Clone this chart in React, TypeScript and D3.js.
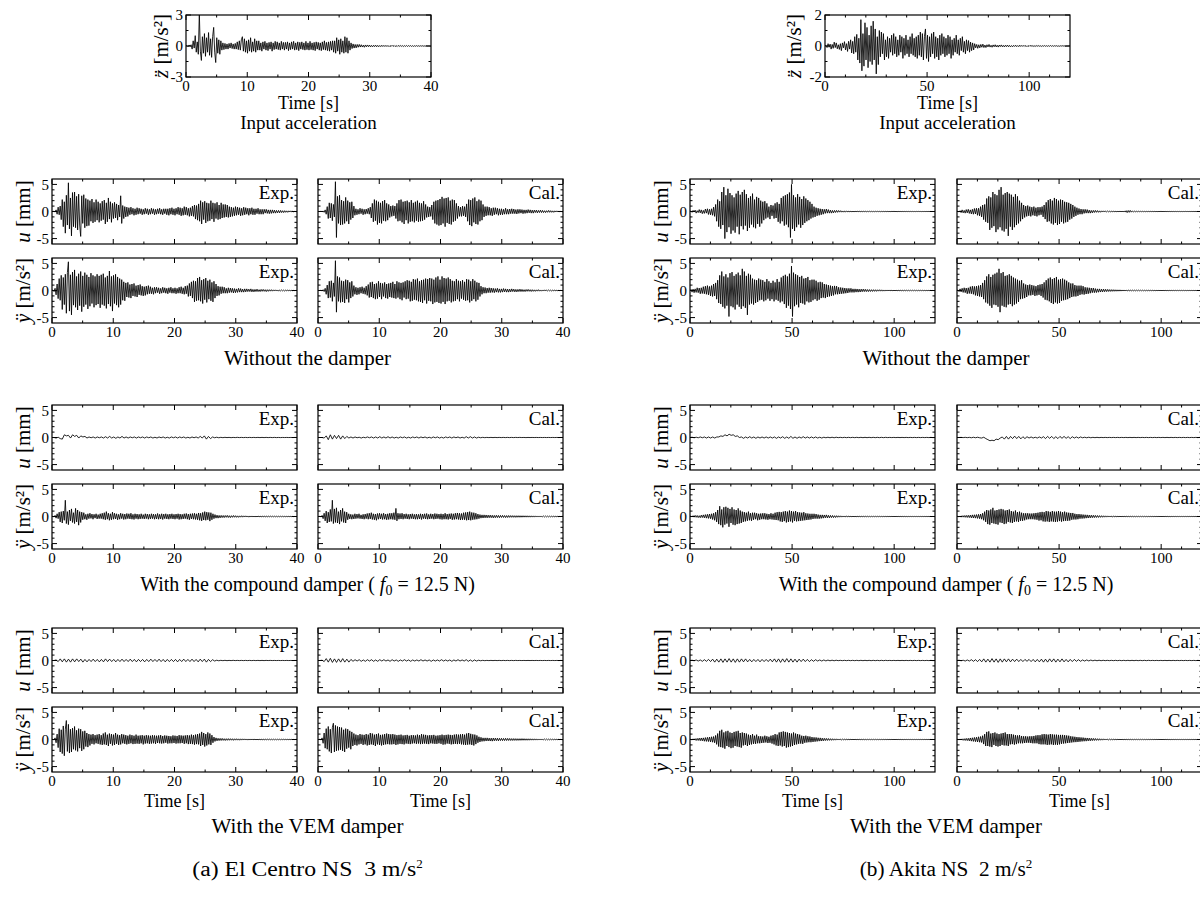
import React from "react";
import * as d3 from "d3";

const FONT = "'Liberation Serif', 'Times New Roman', serif";

// ---------------- tick values ----------------
const ecMajor = [0, 10, 20, 30, 40];
const ecMinor = [5, 15, 25, 35];
const akMajor = [0, 50, 100];
const akMinor = [10, 20, 30, 40, 60, 70, 80, 90, 110];
const respMajor = [-5, 0, 5];
const respMinor = [-4, -3, -2, -1, 1, 2, 3, 4];
const ecInMajor = [-3, 0, 3];
const ecInMinor = [-1.5, 1.5];
const akInMajor = [-2, 0, 2];
const akInMinor = [-1, 1];

// ---------------- El Centro (0–40 s) ----------------
const ecInput = [
0,0.05,-0.08,0.1,-0.05,0.12,-0.3,0.5,-0.2,1.0,-0.6,0.4,-0.8,3.2,-0.5,-1.4,0.9,-0.7,1.2,-1.0,0.8,-0.6,1.3,-0.9,
0.7,-1.1,0.9,1.8,-0.6,-1.6,0.8,-0.7,0.6,-0.8,0.5,-0.4,0.3,-0.35,0.25,-0.3,0.2,-0.3,0.25,-0.2,0.3,-0.25,0.2,-0.3,
0.25,-0.3,0.4,-0.35,0.5,-0.4,0.6,0.9,-0.5,0.7,-0.6,0.5,-0.7,0.6,-0.5,0.8,-0.6,0.4,-0.5,0.7,-0.6,0.5,-0.4,0.5,
-0.4,0.3,-0.5,0.4,-0.3,0.45,-0.4,0.3,-0.45,0.35,-0.3,0.4,-0.5,0.3,-0.35,0.45,-0.3,0.4,-0.35,0.3,-0.4,0.45,-0.3,0.35,
-0.4,0.35,-0.3,0.4,-0.45,0.3,-0.35,0.4,-0.3,0.45,-0.4,0.3,-0.35,0.4,-0.45,0.35,-0.3,0.4,-0.35,0.3,-0.4,0.45,-0.35,0.3,
-0.4,0.45,-0.35,0.3,-0.4,0.35,-0.45,0.4,-0.3,0.35,-0.4,0.3,-0.45,0.4,-0.35,0.5,-0.4,0.35,-0.45,0.4,-0.5,0.45,-0.4,0.5,
-0.6,0.5,-0.7,0.8,-0.5,0.6,-0.8,0.7,-0.6,0.5,-0.7,0.9,-0.6,0.8,-0.7,0.5,-0.4,0.3,-0.25,0.2,-0.2,0.15,-0.18,0.15,
-0.12,0.15,-0.1,0.12,-0.1,0.08,-0.12,0.1,-0.08,0.1,-0.07,0.09,-0.08,0.06,-0.08,0.07,-0.06,0.08,-0.07,0.06,-0.07,0.05,-0.06,0.07,
-0.05,0.06,-0.05,0.06,-0.05,0.05,-0.06,0.04,-0.05,0.06,-0.04,0.05,-0.05,0.04,-0.05,0.05,-0.04,0.05,-0.04,0.04,-0.05,0.04,-0.04,0.05,
-0.04,0.04,-0.03,0.04,-0.04,0.03,-0.04,0.03,-0.03,0.04,-0.03,0.03,-0.03,0.03,-0.02,0.03,-0.03,0.02,-0.02,0.03,-0.02,0.02,-0.02,0];

const ecUExp0 = [
0,0,0.05,-0.1,0.3,-0.5,0.8,-0.6,1.0,-1.5,2.2,-2.8,1.8,-4.0,3.0,-2.5,5.3,-3.2,2.5,-4.5,3.5,-2.8,3.6,-3.0,
2.8,-3.4,3.2,-2.5,-4.6,2.9,-2.2,3.1,-3.0,2.4,-2.7,2.2,-2.6,2.0,-1.8,2.3,-2.1,1.7,-1.9,2.2,-1.6,1.8,-2.0,1.5,
-1.7,1.9,-1.5,2.1,-2.3,1.6,-1.9,2.5,-1.4,1.8,-2.0,1.5,-1.3,1.7,-1.2,1.4,-1.6,1.2,-1.0,2.9,-2.2,1.1,-1.3,0.9,
-1.0,0.8,-0.9,0.7,-0.6,0.8,-0.5,0.6,-0.7,0.5,-0.6,0.7,-0.5,0.6,-0.4,0.5,-0.6,0.4,-0.5,0.6,-0.4,0.5,-0.6,0.4,
-0.5,0.6,-0.4,0.5,-0.6,0.4,-0.5,0.5,-0.4,0.6,-0.5,0.4,-0.6,0.5,-0.4,0.5,-0.6,0.5,-0.7,0.6,-0.5,0.7,-0.6,0.5,
-0.7,0.6,-0.5,0.8,-0.6,0.7,-0.8,0.6,-0.7,0.9,-0.6,0.8,-0.7,0.6,-0.9,0.7,-0.8,1.0,-0.9,1.2,-1.4,1.1,-1.6,1.4,
-1.8,2.0,-2.3,1.7,-1.5,1.9,-2.1,1.6,-1.8,1.5,-1.7,2.0,-1.4,1.6,-1.9,1.5,-1.3,1.7,-1.5,1.2,-1.4,1.6,-1.2,1.3,
-1.1,1.3,-1.0,1.2,-1.1,0.9,-1.0,0.8,-0.9,0.7,-0.8,0.9,-0.7,0.8,-0.6,0.7,-0.8,0.6,-0.7,0.8,-0.6,0.7,-0.5,0.6,
-0.7,0.6,-0.5,0.7,-0.6,0.5,-0.6,0.5,-0.4,0.6,-0.5,0.4,-0.5,0.4,-0.5,0.4,-0.3,0.4,-0.35,0.3,-0.4,0.3,-0.35,0.3,
-0.3,0.25,-0.3,0.2,-0.25,0.2,-0.25,0.2,-0.2,0.15,-0.2,0.15,-0.15,0.12,-0.15,0.12,-0.1,0.12,-0.1,0.08,-0.1,0.08,-0.06,0];

const ecAExp0 = [
0,0.1,-0.2,0.4,-0.8,1.2,-1.5,2.2,-1.8,2.8,-3.5,2.4,-2.6,3.0,-4.2,3.3,5.3,-3.8,2.9,-4.5,3.4,-2.7,3.8,-3.1,
2.6,-3.6,3.1,-2.8,3.5,-3.9,2.7,-3.0,3.3,-2.6,2.9,-3.4,2.5,-2.9,3.2,-2.4,2.8,-3.1,2.6,-2.7,3.0,-2.5,2.7,-3.2,
2.9,-2.6,3.1,-2.8,2.4,-3.3,2.7,-2.5,3.6,-2.9,2.6,-3.8,2.8,-2.4,3.0,-2.7,2.5,-3.1,2.2,-2.6,2.0,-1.8,1.6,-1.9,
1.4,-1.2,1.5,-1.3,1.1,-1.4,1.2,-1.0,1.3,-1.1,0.9,-1.2,1.0,-0.8,1.1,-0.9,0.8,-1.0,0.7,-0.9,0.8,-0.7,0.9,-0.6,
0.7,-0.6,0.5,-0.7,0.6,-0.5,0.6,-0.4,0.5,-0.6,0.4,-0.5,0.6,-0.4,0.5,-0.5,0.4,-0.6,0.5,-0.4,0.6,-0.5,0.4,-0.5,
0.5,-0.6,0.4,-0.5,0.6,-0.5,0.7,-0.6,0.5,-0.7,0.8,-0.6,0.9,-1.1,1.3,-1.0,1.6,-1.4,1.8,-2.1,1.7,-1.9,2.3,-1.8,
2.5,-2.0,1.9,-2.4,2.1,-1.7,2.3,-2.2,1.8,-1.6,2.0,-1.9,1.5,-2.1,1.7,-1.4,1.2,-1.0,0.8,-0.9,0.7,-0.6,0.7,-0.5,
0.6,-0.5,0.4,-0.5,0.5,-0.4,0.45,-0.35,0.4,-0.45,0.35,-0.4,0.3,-0.35,0.4,-0.3,0.35,-0.3,0.25,-0.3,0.3,-0.25,0.3,-0.2,
0.25,-0.2,0.3,-0.25,0.2,-0.25,0.2,-0.2,0.25,-0.2,0.15,-0.2,0.2,-0.15,0.2,-0.15,0.15,-0.2,0.15,-0.15,0.15,-0.12,0.15,-0.12,
0.12,-0.1,0.12,-0.1,0.1,-0.12,0.1,-0.08,0.1,-0.08,0.08,-0.1,0.08,-0.06,0.08,-0.06,0.06,-0.07,0.05,-0.06,0.05,-0.05,0.04,0];

const ecUCal0 = [
0,0,0,0.05,-0.05,0.1,-0.15,0.3,-0.5,0.9,-1.3,1.6,-1.2,1.5,-1.7,1.3,-1.0,5.5,-4.8,2.8,-2.2,3.0,-2.5,2.1,
-2.4,1.9,-2.2,2.6,-1.8,2.0,-2.3,1.7,-1.5,1.8,-1.2,1.0,-0.7,0.5,-0.6,0.4,-0.5,0.6,-0.4,0.5,-0.6,0.4,-0.5,0.45,
-0.4,0.6,-0.5,0.8,-1.2,1.5,-1.9,2.2,-1.7,2.0,-2.4,1.8,-2.1,1.6,-2.2,1.9,-1.7,2.1,-1.8,1.5,-1.6,1.3,-1.1,1.0,
-0.9,1.1,-0.8,1.0,-1.3,1.5,-1.8,2.1,-1.7,2.2,-2.0,1.8,-2.3,1.9,-1.6,2.0,-2.2,1.7,-1.9,2.1,-1.8,1.6,-2.0,1.8,
-1.7,2.0,-1.9,1.6,-1.8,1.5,-1.7,1.9,-1.5,1.3,-1.1,0.9,-1.0,0.8,-0.9,1.2,-1.5,1.8,-2.2,2.0,-2.4,2.1,-2.6,2.3,
-2.5,2.7,-2.2,2.4,-2.8,2.5,-2.1,2.6,-2.3,2.0,-2.4,2.2,-1.9,2.1,-1.7,1.5,-1.3,1.0,-0.9,0.8,-0.9,1.0,-0.8,0.9,
-1.0,1.4,-1.8,2.2,-2.5,2.1,-2.7,2.4,-2.0,2.6,-2.3,1.9,-2.4,2.2,-1.8,2.0,-1.6,1.3,-1.0,0.9,-0.8,0.9,-0.7,0.8,
-0.7,0.6,-0.8,0.7,-0.6,0.7,-0.5,0.6,-0.7,0.5,-0.6,0.5,-0.6,0.4,-0.5,0.6,-0.5,0.4,-0.5,0.45,-0.4,0.5,-0.4,0.45,
-0.4,0.35,-0.45,0.4,-0.35,0.4,-0.3,0.35,-0.4,0.3,-0.35,0.3,-0.3,0.35,-0.25,0.3,-0.3,0.25,-0.3,0.25,-0.2,0.25,-0.25,0.2,
-0.2,0.25,-0.2,0.2,-0.2,0.15,-0.2,0.15,-0.15,0.2,-0.15,0.15,-0.15,0.12,-0.15,0.12,-0.1,0.12,-0.1,0.1,-0.1,0.08,-0.08,0];

const ecACal0 = [
0,0,0,0.05,-0.1,0.15,-0.2,0.4,-0.7,1.0,-1.4,1.7,-1.3,1.8,-2.0,1.4,-1.1,5.5,-4.0,2.6,-2.0,2.4,-2.2,1.8,
-2.1,1.7,-2.3,2.0,-1.6,1.9,-2.2,1.5,-1.4,1.7,-1.1,0.9,-0.7,0.6,-0.8,0.5,-0.7,0.6,-0.5,0.7,-0.6,0.5,-0.7,0.8,
-0.9,1.1,-1.3,1.5,-1.2,1.6,-1.4,1.2,-1.6,1.3,-1.5,1.7,-1.2,1.4,-1.6,1.3,-1.1,1.5,-1.4,1.2,-1.5,1.3,-1.2,1.4,
-1.3,1.6,-1.4,1.2,-1.5,1.7,-1.3,1.5,-1.6,1.4,-1.8,1.5,-1.3,1.7,-1.6,1.9,-1.5,1.8,-2.0,1.6,-1.9,2.1,-1.7,2.0,
-1.8,2.2,-2.0,1.7,-2.1,1.9,-2.3,2.0,-1.8,2.2,-2.4,2.1,-1.9,2.3,-2.0,2.2,-2.5,2.0,-2.2,2.4,-2.1,2.6,-2.3,2.0,
-2.4,2.6,-2.1,2.3,-2.5,2.2,-2.0,2.4,-1.9,2.1,-2.2,1.8,-2.0,1.7,-1.9,2.1,-1.6,1.8,-2.0,1.7,-1.5,1.9,-1.7,1.6,
-1.9,2.1,-1.8,2.0,-2.2,1.7,-1.9,2.1,-1.6,1.8,-2.0,1.5,-1.7,1.4,-1.1,0.8,-0.7,0.6,-0.5,0.55,-0.5,0.45,-0.4,0.5,
-0.4,0.45,-0.35,0.4,-0.4,0.35,-0.3,0.4,-0.35,0.3,-0.35,0.3,-0.3,0.35,-0.25,0.3,-0.3,0.25,-0.3,0.25,-0.25,0.3,-0.2,0.25,
-0.25,0.2,-0.25,0.2,-0.2,0.25,-0.2,0.2,-0.2,0.15,-0.2,0.18,-0.15,0.2,-0.15,0.15,-0.18,0.15,-0.15,0.12,-0.15,0.12,-0.12,0.15,
-0.12,0.1,-0.12,0.1,-0.1,0.12,-0.1,0.1,-0.08,0.1,-0.08,0.08,-0.1,0.08,-0.06,0.08,-0.06,0.06,-0.06,0.05,-0.05,0.05,-0.04,0];

const ecUExp1 = [
0,0,-0.1,0.05,-0.2,-0.3,0.5,0.3,0.4,-0.1,0.5,0.2,
0.4,-0.1,0.3,0.1,0.2,-0.1,0.1,-0.05,0.1,-0.1,0.1,-0.05,
0.1,-0.1,0.15,-0.1,0.2,-0.1,0.1,-0.15,0.1,-0.1,0.2,-0.1,
0.1,-0.1,0.1,-0.05,0.1,-0.1,0.1,-0.05,0.1,-0.1,0.1,-0.05,
0.1,-0.1,0.05,-0.1,0.1,-0.05,0.1,-0.1,0.05,-0.1,0.1,-0.05,
0.1,-0.1,0.1,-0.05,0.1,-0.1,0.05,-0.1,0.1,-0.05,0.1,-0.1,
0.2,-0.1,0.3,-0.3,0.2,-0.2,0.1,-0.05,0.05,-0.05,0.03,-0.03,
0.03,-0.02,0.02,-0.03,0.02,-0.02,0.03,-0.02,0.02,-0.02,0.02,-0.02,
0.02,-0.02,0.02,-0.02,0.02,-0.02,0.02,-0.02,0.02,-0.02,0.02,-0.02,
0.02,-0.02,0.01,-0.02,0.01,-0.01,0.01,-0.01,0.01,-0.01,0.01,0];

const ecUCal1 = [
0,0,0,-0.1,0.3,-0.4,0.5,-0.3,0.4,-0.2,0.4,-0.3,
0.3,-0.2,0.2,-0.1,0.1,-0.1,0.1,-0.05,0.05,-0.1,0.05,-0.05,
0.1,-0.05,0.1,-0.1,0.1,-0.1,0.15,-0.1,0.1,-0.1,0.15,-0.1,
0.1,-0.1,0.05,-0.1,0.1,-0.05,0.1,-0.1,0.05,-0.1,0.1,-0.05,
0.1,-0.1,0.1,-0.05,0.1,-0.1,0.05,-0.1,0.1,-0.05,0.1,-0.1,
0.05,-0.1,0.1,-0.05,0.1,-0.1,0.1,-0.05,0.1,-0.1,0.05,-0.1,
0.15,-0.1,0.15,-0.1,0.1,-0.1,0.05,-0.05,0.03,-0.03,0.02,-0.02,
0.02,-0.02,0.02,-0.02,0.02,-0.02,0.02,-0.02,0.02,-0.02,0.02,-0.02,
0.02,-0.01,0.02,-0.01,0.01,-0.02,0.01,-0.01,0.01,-0.01,0.01,-0.01,
0.01,-0.01,0.01,-0.01,0.01,-0.01,0.01,-0.01,0.01,-0.01,0.01,0];

const ecAExp1 = [
0,0.05,-0.1,0.2,-0.3,0.5,-0.4,0.8,-1.0,0.9,-1.2,1.0,-0.7,3.0,-1.3,0.9,-1.5,1.2,-0.8,1.4,-1.1,0.7,-1.3,1.5,
-1.0,1.2,-1.6,0.9,-1.1,0.8,-0.6,0.7,-0.5,0.4,-0.6,0.5,-0.4,0.6,-0.35,0.45,-0.5,0.4,-0.3,0.5,-0.45,0.35,-0.4,0.5,
-0.4,0.6,-0.5,0.7,-0.6,0.9,-0.5,0.6,-0.7,0.5,-0.6,0.8,-0.5,0.6,-0.45,0.5,-0.6,0.4,-0.5,0.6,-0.4,0.5,-0.55,0.45,
-0.5,0.55,-0.4,0.5,-0.45,0.6,-0.5,0.4,-0.55,0.5,-0.4,0.45,-0.5,0.4,-0.45,0.5,-0.4,0.35,-0.45,0.5,-0.4,0.45,-0.5,0.4,
-0.45,0.5,-0.4,0.45,-0.5,0.4,-0.45,0.55,-0.5,0.4,-0.45,0.5,-0.55,0.45,-0.4,0.5,-0.45,0.4,-0.5,0.45,-0.4,0.5,-0.45,0.4,
-0.5,0.45,-0.4,0.5,-0.55,0.45,-0.5,0.4,-0.45,0.5,-0.4,0.55,-0.5,0.45,-0.6,0.5,-0.45,0.55,-0.5,0.6,-0.55,0.5,-0.6,0.65,
-0.7,0.6,-0.8,0.75,-0.65,0.9,-0.7,0.8,-0.6,0.75,-0.85,0.7,-0.6,0.5,-0.4,0.35,-0.3,0.25,-0.3,0.2,-0.25,0.2,-0.2,0.18,
-0.2,0.18,-0.15,0.2,-0.18,0.15,-0.2,0.15,-0.15,0.18,-0.14,0.15,-0.15,0.12,-0.15,0.12,-0.12,0.14,-0.12,0.12,-0.1,0.12,-0.1,0.1,
-0.12,0.1,-0.1,0.1,-0.1,0.09,-0.1,0.08,-0.09,0.1,-0.08,0.08,-0.09,0.08,-0.07,0.08,-0.08,0.07,-0.07,0.07,-0.06,0.07,-0.06,0.06,
-0.06,0.06,-0.06,0.05,-0.06,0.05,-0.05,0.05,-0.05,0.05,-0.05,0.04,-0.05,0.04,-0.04,0.04,-0.04,0.04,-0.04,0.03,-0.04,0.03,-0.03,0];

const ecACal1 = [
0,0,0.05,-0.1,0.2,-0.4,0.6,-0.8,1.0,-1.2,0.8,-1.0,1.3,-0.9,3.0,-1.3,1.4,-1.1,1.6,-1.2,0.9,-1.4,1.2,-0.9,
1.5,-1.1,0.9,-1.2,0.8,-0.6,0.5,-0.45,0.4,-0.5,0.35,-0.45,0.5,-0.4,0.45,-0.35,0.5,-0.4,0.3,-0.45,0.4,-0.5,0.45,-0.4,
0.55,-0.5,0.6,-0.45,0.7,-0.55,0.5,-0.6,0.45,-0.7,0.55,-0.5,0.6,-0.45,0.5,-0.55,0.6,-0.5,0.45,-0.6,0.5,-0.55,0.6,-0.5,
0.6,-0.55,0.7,-0.6,1.5,-0.8,0.6,-0.5,0.55,-0.45,0.6,-0.5,0.45,-0.4,0.5,-0.45,0.4,-0.5,0.45,-0.4,0.5,-0.45,0.4,-0.5,
0.45,-0.5,0.4,-0.45,0.5,-0.55,0.45,-0.4,0.5,-0.45,0.55,-0.5,0.4,-0.45,0.5,-0.4,0.45,-0.5,0.55,-0.45,0.5,-0.4,0.45,-0.5,
0.5,-0.55,0.45,-0.5,0.6,-0.5,0.45,-0.55,0.5,-0.45,0.55,-0.6,0.5,-0.55,0.6,-0.5,0.65,-0.55,0.6,-0.65,0.55,-0.6,0.7,-0.6,
0.75,-0.7,0.8,-0.65,0.9,-0.7,0.75,-0.6,0.7,-0.55,0.6,-0.5,0.45,-0.4,0.35,-0.3,0.3,-0.28,0.3,-0.25,0.28,-0.25,0.25,-0.22,
0.25,-0.22,0.22,-0.25,0.2,-0.22,0.22,-0.2,0.2,-0.22,0.2,-0.18,0.2,-0.18,0.18,-0.2,0.17,-0.18,0.18,-0.16,0.17,-0.15,0.16,-0.15,
0.15,-0.16,0.15,-0.14,0.15,-0.14,0.14,-0.13,0.14,-0.12,0.13,-0.12,0.13,-0.12,0.12,-0.12,0.12,-0.11,0.11,-0.11,0.11,-0.1,0.1,-0.1,
0.1,-0.1,0.1,-0.09,0.09,-0.09,0.09,-0.08,0.08,-0.08,0.08,-0.08,0.07,-0.07,0.07,-0.07,0.06,-0.06,0.06,-0.06,0.05,-0.05,0.05,0];

const ecUExp2 = [
0,0,0.1,-0.2,0.3,-0.25,0.3,-0.3,0.25,-0.3,0.3,-0.25,
0.3,-0.2,0.25,-0.3,0.2,-0.25,0.2,-0.2,0.25,-0.2,0.2,-0.25,
0.2,-0.25,0.3,-0.2,0.25,-0.2,0.2,-0.25,0.2,-0.2,0.25,-0.2,
0.2,-0.2,0.25,-0.2,0.2,-0.25,0.2,-0.2,0.2,-0.25,0.2,-0.2,
0.25,-0.2,0.2,-0.2,0.25,-0.2,0.2,-0.25,0.2,-0.2,0.2,-0.2,
0.2,-0.25,0.2,-0.2,0.25,-0.2,0.2,-0.2,0.25,-0.2,0.2,-0.25,
0.25,-0.2,0.25,-0.3,0.2,-0.2,0.15,-0.1,0.05,-0.05,0.03,-0.03,
0.03,-0.03,0.02,-0.02,0.03,-0.02,0.02,-0.02,0.02,-0.02,0.02,-0.02,
0.02,-0.02,0.02,-0.02,0.02,-0.02,0.02,-0.02,0.02,-0.01,0.02,-0.01,
0.01,-0.01,0.01,-0.01,0.01,-0.01,0.01,-0.01,0.01,-0.01,0.01,0];

const ecUCal2 = [
0,0,0.05,-0.2,0.35,-0.3,0.4,-0.35,0.3,-0.35,0.3,-0.3,
0.35,-0.3,0.25,-0.3,0.2,-0.15,0.15,-0.1,0.15,-0.15,0.1,-0.15,
0.15,-0.1,0.15,-0.15,0.1,-0.15,0.15,-0.1,0.15,-0.1,0.1,-0.15,
0.15,-0.1,0.1,-0.15,0.1,-0.1,0.15,-0.1,0.1,-0.15,0.1,-0.1,
0.1,-0.1,0.15,-0.1,0.1,-0.1,0.1,-0.15,0.1,-0.1,0.1,-0.1,
0.15,-0.1,0.1,-0.1,0.1,-0.15,0.1,-0.1,0.15,-0.1,0.1,-0.1,
0.15,-0.15,0.1,-0.15,0.1,-0.1,0.05,-0.05,0.03,-0.03,0.02,-0.02,
0.02,-0.02,0.02,-0.02,0.02,-0.02,0.02,-0.02,0.02,-0.02,0.02,-0.02,
0.02,-0.01,0.01,-0.01,0.01,-0.01,0.01,-0.01,0.01,-0.01,0.01,-0.01,
0.01,-0.01,0.01,-0.01,0.01,-0.01,0.01,-0.01,0.01,-0.01,0.01,0];

const ecAExp2 = [
0,0.05,-0.1,0.3,-0.6,1.0,-1.5,2.0,-2.3,1.8,-2.6,2.5,-3.0,1.9,3.5,-2.2,2.8,-2.5,1.9,-2.3,2.1,-1.8,2.4,-2.0,
1.7,-2.2,2.0,-1.6,1.9,-2.1,1.5,-1.8,1.6,-1.3,1.2,-1.4,1.0,-1.1,0.9,-0.8,1.0,-0.9,0.8,-0.7,0.9,-0.8,1.0,-0.9,
0.8,-1.0,1.1,-0.9,1.3,-1.0,0.9,-1.2,1.1,-0.8,1.0,-1.1,0.9,-1.0,1.2,-0.8,0.9,-1.0,0.8,-0.9,1.0,-0.7,0.9,-0.8,
0.8,-0.9,0.7,-0.8,0.9,-0.7,0.8,-0.85,0.7,-0.8,0.9,-0.75,0.7,-0.8,0.75,-0.7,0.8,-0.9,0.7,-0.75,0.8,-0.7,0.75,-0.8,
0.7,-0.75,0.8,-0.7,0.75,-0.8,0.7,-0.65,0.75,-0.7,0.8,-0.75,0.65,-0.7,0.75,-0.6,0.7,-0.75,0.65,-0.7,0.6,-0.7,0.75,-0.65,
0.7,-0.75,0.65,-0.7,0.8,-0.7,0.75,-0.65,0.7,-0.8,0.75,-0.7,0.8,-0.85,0.75,-0.8,0.9,-0.85,0.8,-0.95,0.9,-0.85,1.0,-0.9,
1.1,-1.2,1.4,-1.0,1.2,-1.3,1.0,-1.1,1.3,-0.9,1.1,-1.0,0.8,-0.6,0.45,-0.35,0.3,-0.25,0.22,-0.2,0.2,-0.18,0.2,-0.16,
0.15,-0.18,0.15,-0.15,0.16,-0.14,0.15,-0.13,0.14,-0.15,0.13,-0.12,0.14,-0.12,0.12,-0.13,0.12,-0.11,0.12,-0.1,0.11,-0.1,0.1,-0.11,
0.1,-0.1,0.1,-0.09,0.1,-0.09,0.09,-0.09,0.08,-0.09,0.08,-0.08,0.08,-0.08,0.07,-0.08,0.07,-0.07,0.07,-0.06,0.07,-0.06,0.06,-0.06,
0.06,-0.06,0.05,-0.06,0.05,-0.05,0.05,-0.05,0.05,-0.04,0.05,-0.04,0.04,-0.04,0.04,-0.04,0.04,-0.03,0.04,-0.03,0.03,-0.03,0.03,0];

const ecACal2 = [
0,0,0.05,-0.1,0.3,-0.7,1.2,-1.6,2.0,-1.8,2.4,-2.2,1.9,-2.5,2.2,3.0,-2.3,2.6,-2.1,2.4,-2.0,2.3,-1.9,2.2,
-2.1,1.8,-2.3,2.0,-1.7,1.9,-1.5,1.6,-1.8,1.4,-1.2,1.1,-1.0,0.9,-1.1,0.8,-0.9,1.0,-0.8,0.9,-1.0,0.85,-0.9,1.0,
-1.1,0.9,-1.0,1.2,-0.9,1.1,-1.0,0.9,-1.2,1.0,-0.9,1.1,-1.0,0.85,-1.1,0.9,-1.0,1.0,-0.9,1.1,-0.85,1.0,-0.9,0.95,
-0.9,1.0,-0.85,0.9,-1.0,0.8,-0.9,0.85,-0.8,0.9,-0.85,0.75,-0.9,0.8,-0.75,0.85,-0.8,0.7,-0.85,0.8,-0.75,0.8,-0.7,0.75,
-0.8,0.9,-0.75,0.8,-0.85,1.0,-0.8,0.9,-0.75,0.85,-0.8,0.75,-0.85,0.8,-0.7,0.8,-0.75,0.85,-0.8,0.7,-0.8,0.75,-0.7,0.8,
-0.8,0.9,-0.95,0.8,-0.9,0.85,-0.75,0.9,-0.8,0.85,-0.9,0.8,-0.85,0.9,-0.8,0.95,-0.85,0.9,-0.8,0.95,-0.9,1.0,-0.95,0.9,
-1.0,1.1,-0.95,1.2,-0.9,1.05,-1.0,0.95,-1.1,0.9,-0.85,0.75,-0.6,0.5,-0.45,0.4,-0.35,0.3,-0.32,0.3,-0.28,0.3,-0.27,0.25,
-0.28,0.25,-0.3,0.26,-0.24,0.25,-0.22,0.24,-0.25,0.22,-0.2,0.22,-0.21,0.2,-0.2,0.22,-0.19,0.2,-0.18,0.19,-0.18,0.17,-0.18,0.17,
-0.17,0.16,-0.17,0.15,-0.16,0.15,-0.15,0.16,-0.14,0.15,-0.14,0.13,-0.14,0.13,-0.13,0.13,-0.12,0.12,-0.12,0.12,-0.11,0.11,-0.11,0.1,
-0.1,0.1,-0.1,0.1,-0.09,0.09,-0.09,0.09,-0.08,0.08,-0.08,0.08,-0.07,0.07,-0.07,0.07,-0.06,0.06,-0.06,0.06,-0.05,0.05,-0.05,0];

// ---------------- Akita (0–120 s) ----------------
const akInput = [
0,0.05,-0.1,0.15,-0.08,0.12,-0.2,0.1,-0.15,0.25,-0.1,0.2,-0.18,0.08,-0.22,0.15,-0.3,0.2,-0.12,0.28,-0.25,0.15,-0.35,0.3,
-0.2,0.4,-0.45,0.3,-0.5,0.6,-0.4,0.75,-0.9,0.5,-1.1,1.7,-1.6,0.8,-1.3,1.5,-0.9,1.2,-1.4,0.7,-1.0,1.3,-1.2,1.6,
-0.9,1.1,-1.8,0.6,-1.2,1.0,-0.7,0.9,-0.5,0.8,-0.9,0.4,-0.7,0.6,-0.8,0.5,-0.4,0.7,-0.6,0.8,-0.5,0.6,-0.7,0.4,
-0.6,0.7,-0.4,0.6,-0.8,0.5,-0.6,0.7,-0.5,0.4,-0.7,0.6,-0.5,0.8,-0.6,0.5,-0.7,0.6,-0.8,0.7,-0.6,0.9,-0.7,0.8,
-0.9,0.6,1.1,-0.8,0.7,-1.0,0.6,-0.7,0.8,-0.5,0.9,-0.8,0.6,-0.7,0.5,-0.9,0.7,-0.6,0.8,-0.5,0.6,-0.7,0.5,-0.6,
0.7,-0.5,0.6,-0.8,0.4,-0.6,0.5,-0.4,0.7,-0.5,0.4,-0.6,0.5,-0.3,0.6,-0.4,0.3,-0.5,0.4,-0.3,0.35,-0.4,0.25,-0.3,
0.2,-0.25,0.15,-0.12,0.1,-0.15,0.08,-0.12,0.1,-0.08,0.12,-0.1,0.06,-0.1,0.08,-0.06,0.1,-0.07,0.05,-0.08,0.07,-0.05,0.08,-0.06,
0.05,-0.07,0.06,-0.04,0.07,-0.05,0.04,-0.06,0.05,-0.04,0.06,-0.05,0.04,-0.05,0.03,-0.05,0.04,-0.03,0.05,-0.04,0.03,-0.04,0.05,-0.03,
0.04,-0.03,0.04,-0.03,0.03,-0.04,0.03,-0.03,0.04,-0.02,0.03,-0.03,0.02,-0.03,0.03,-0.02,0.03,-0.02,0.02,-0.03,0.02,-0.02,0.03,-0.02,
0.02,-0.02,0.02,-0.02,0.03,-0.02,0.02,-0.02,0.02,-0.01,0.02,-0.02,0.01,-0.02,0.02,-0.01,0.02,-0.01,0.01,-0.02,0.01,-0.01,0.01,0];

const akUExp0 = [
0,0.1,-0.15,0.2,-0.1,0.25,-0.3,0.15,-0.2,0.35,-0.25,0.3,-0.4,0.2,-0.35,0.45,-0.3,0.5,-0.55,0.4,-0.6,0.5,-0.7,0.8,
-0.9,1.3,-1.8,2.2,-2.8,1.9,-3.2,3.6,-2.5,4.5,-5.0,3.0,-3.8,4.2,-2.9,3.4,-4.1,3.0,-3.5,2.6,-3.9,3.3,-2.8,3.8,
-4.2,3.1,-2.7,3.6,-3.3,4.0,-2.6,3.2,-3.6,2.5,-3.0,2.8,-2.4,3.3,-2.9,2.2,-3.1,2.7,-2.3,2.5,-2.8,2.0,-2.2,1.8,
-1.6,1.9,-1.3,1.5,-1.1,0.9,-1.4,1.2,-0.8,1.1,-1.3,1.5,-1.2,1.7,-1.9,1.4,-2.2,2.5,-1.8,2.8,-2.6,3.0,-2.4,3.2,
-2.9,3.5,-4.8,5.0,-3.2,3.0,-3.6,2.6,-2.9,3.2,-2.4,2.7,-3.0,2.3,-2.5,2.8,-2.1,2.4,-1.8,2.1,-1.6,1.8,-1.3,1.4,
-1.1,0.9,-1.0,0.7,-0.8,0.6,-0.7,0.5,-0.6,0.45,-0.5,0.4,-0.35,0.45,-0.3,0.35,-0.3,0.25,-0.3,0.2,-0.25,0.2,-0.18,0.2,
-0.15,0.18,-0.12,0.15,-0.12,0.1,-0.12,0.1,-0.08,0.1,-0.1,0.08,-0.08,0.07,-0.08,0.06,-0.07,0.06,-0.06,0.07,-0.05,0.06,-0.05,0.05,
-0.05,0.05,-0.04,0.05,-0.05,0.04,-0.04,0.05,-0.04,0.04,-0.04,0.03,-0.04,0.04,-0.03,0.04,-0.03,0.03,-0.04,0.03,-0.03,0.03,-0.03,0.03,
-0.03,0.03,-0.03,0.02,-0.03,0.03,-0.02,0.03,-0.02,0.02,-0.03,0.02,-0.02,0.02,-0.02,0.02,-0.02,0.02,-0.02,0.02,-0.02,0.02,-0.02,0.02,
-0.02,0.02,-0.02,0.01,-0.02,0.02,-0.01,0.02,-0.01,0.01,-0.02,0.01,-0.01,0.01,-0.01,0.01,-0.01,0.01,-0.01,0.01,-0.01,0.01,-0.01,0];

const akAExp0 = [
0,0.2,-0.3,0.25,-0.4,0.3,-0.35,0.5,-0.4,0.45,-0.6,0.5,-0.55,0.7,-0.6,0.8,-0.7,0.9,-0.8,0.75,-1.0,0.9,-1.1,1.2,
-1.0,1.4,-1.6,1.9,-2.3,2.8,-2.5,3.5,-3.0,2.6,-3.3,3.0,-2.8,2.4,-4.8,3.2,-2.9,3.4,-3.1,2.7,-3.5,3.0,-2.6,3.3,
-3.0,2.8,-3.4,4.0,-2.9,3.5,-3.2,2.7,-4.5,3.1,-2.6,2.9,-2.4,2.2,-2.6,2.0,-2.3,1.9,-2.1,2.2,-1.8,2.0,-1.7,1.9,
-2.0,1.6,-1.8,2.1,-1.5,1.7,-1.9,1.4,-1.6,1.8,-2.0,1.5,-1.7,2.1,-1.9,1.6,-2.2,2.4,-2.0,2.7,-2.5,2.9,-3.2,2.6,
-2.8,3.1,-3.4,4.5,-4.8,3.3,-2.9,3.0,-2.6,2.8,-3.1,2.5,-2.3,2.7,-2.4,2.2,-2.6,2.3,-2.0,2.5,-2.2,1.9,-2.1,2.0,
-1.8,2.0,-1.6,1.8,-1.9,1.5,-1.7,1.6,-1.4,1.5,-1.3,1.2,-1.4,1.1,-1.2,1.0,-1.1,0.9,-1.0,0.8,-0.9,0.85,-0.7,0.8,
-0.7,0.6,-0.65,0.55,-0.6,0.5,-0.55,0.45,-0.5,0.4,-0.45,0.4,-0.35,0.4,-0.35,0.3,-0.35,0.3,-0.3,0.28,-0.3,0.25,-0.28,0.25,
-0.22,0.25,-0.2,0.22,-0.2,0.18,-0.2,0.17,-0.18,0.15,-0.17,0.15,-0.15,0.14,-0.15,0.13,-0.12,0.14,-0.12,0.12,-0.12,0.1,-0.11,0.1,
-0.1,0.1,-0.09,0.1,-0.09,0.08,-0.09,0.08,-0.08,0.08,-0.08,0.07,-0.07,0.07,-0.07,0.06,-0.07,0.06,-0.06,0.06,-0.06,0.05,-0.06,0.05,
-0.05,0.05,-0.05,0.05,-0.05,0.04,-0.05,0.04,-0.04,0.04,-0.04,0.04,-0.04,0.03,-0.04,0.03,-0.03,0.03,-0.03,0.03,-0.03,0.03,-0.03,0];

const akUCal0 = [
0,0.05,-0.1,0.15,-0.2,0.3,-0.25,0.2,-0.3,0.35,-0.25,0.4,-0.35,0.3,-0.45,0.4,-0.5,0.55,-0.45,0.6,-0.7,0.6,-0.8,0.9,
-1.0,1.2,-1.5,1.3,-1.9,2.4,-2.1,2.8,-3.4,2.6,-3.0,3.6,-2.7,3.2,-3.8,3.0,-3.3,4.0,-2.9,4.5,-3.5,3.1,-3.7,3.4,
-3.2,3.6,-4.5,3.3,-2.8,3.1,-3.4,2.7,-2.9,3.2,-2.5,2.8,-2.2,2.0,-1.8,1.6,-1.4,1.2,-1.1,1.0,-0.9,1.1,-0.8,0.9,
-0.9,0.8,-0.7,0.9,-0.8,0.7,-0.9,0.8,-0.7,0.8,-0.6,0.9,-1.0,1.2,-1.4,1.7,-1.9,2.1,-1.8,2.3,-2.2,2.0,-2.4,2.5,
-2.1,2.3,-2.5,2.0,-2.3,2.2,-1.9,2.1,-2.2,1.8,-2.0,1.7,-1.9,1.6,-1.5,1.4,-1.3,1.2,-1.0,0.9,-0.8,0.7,-0.6,0.55,
-0.5,0.45,-0.5,0.4,-0.35,0.4,-0.3,0.35,-0.3,0.25,-0.3,0.2,-0.25,0.2,-0.18,0.2,-0.15,0.17,-0.15,0.12,-0.14,0.12,-0.1,0.12,
-0.1,0.1,-0.08,0.1,-0.08,0.07,-0.08,0.07,-0.06,0.07,-0.06,0.05,-0.06,0.05,-0.05,0.06,-0.05,0.05,-0.06,0.08,-0.1,0.15,-0.2,0.18,
-0.15,0.2,-0.12,0.1,-0.08,0.07,-0.06,0.05,-0.05,0.05,-0.04,0.04,-0.04,0.04,-0.04,0.03,-0.04,0.03,-0.03,0.03,-0.03,0.03,-0.03,0.03,
-0.03,0.03,-0.03,0.02,-0.03,0.02,-0.02,0.03,-0.02,0.02,-0.02,0.02,-0.02,0.02,-0.02,0.02,-0.02,0.02,-0.02,0.02,-0.02,0.02,-0.02,0.02,
-0.02,0.02,-0.02,0.01,-0.02,0.01,-0.01,0.02,-0.01,0.01,-0.01,0.01,-0.01,0.01,-0.01,0.01,-0.01,0.01,-0.01,0.01,-0.01,0.01,-0.01,0];

const akACal0 = [
0,0.1,-0.2,0.3,-0.25,0.4,-0.35,0.5,-0.4,0.45,-0.6,0.5,-0.55,0.7,-0.6,0.8,-0.7,0.75,-0.9,0.8,-1.0,0.9,-1.1,1.0,
-1.2,1.4,-1.6,1.9,-2.2,2.6,-2.4,3.0,-2.8,2.5,-3.2,2.9,-2.6,3.1,-2.7,3.3,-3.0,4.0,-4.0,3.2,-2.8,3.4,-3.0,2.7,
-3.1,2.8,-2.6,3.0,-2.5,2.7,-2.9,2.4,-2.6,2.2,-2.4,2.0,-2.1,1.8,-1.6,1.9,-1.5,1.3,-1.4,1.1,-1.2,1.0,-0.9,1.1,
-0.9,1.0,-0.8,0.9,-1.0,0.8,-0.9,1.0,-0.8,1.1,-1.0,1.2,-1.3,1.5,-1.7,1.9,-1.8,2.2,-2.0,2.4,-2.3,2.1,-2.5,2.3,
-2.2,2.5,-2.4,2.0,-2.3,2.1,-1.9,2.2,-1.8,2.0,-1.7,1.8,-1.6,1.5,-1.4,1.3,-1.2,1.3,-1.1,1.0,-1.1,0.9,-1.0,0.9,
-0.8,0.9,-0.7,0.8,-0.75,0.6,-0.65,0.55,-0.6,0.5,-0.5,0.45,-0.4,0.45,-0.4,0.35,-0.38,0.3,-0.32,0.3,-0.28,0.25,-0.26,0.25,
-0.22,0.22,-0.2,0.2,-0.18,0.17,-0.17,0.16,-0.15,0.15,-0.14,0.13,-0.13,0.12,-0.12,0.12,-0.11,0.1,-0.1,0.1,-0.1,0.09,-0.09,0.09,
-0.08,0.08,-0.08,0.08,-0.07,0.07,-0.07,0.07,-0.06,0.07,-0.06,0.06,-0.06,0.06,-0.06,0.05,-0.06,0.05,-0.05,0.05,-0.05,0.05,-0.05,0.05,
-0.05,0.04,-0.05,0.04,-0.04,0.04,-0.04,0.04,-0.04,0.04,-0.04,0.04,-0.04,0.03,-0.04,0.03,-0.03,0.03,-0.03,0.03,-0.03,0.03,-0.03,0.03,
-0.03,0.03,-0.03,0.03,-0.03,0.03,-0.03,0.02,-0.03,0.02,-0.02,0.02,-0.02,0.02,-0.02,0.02,-0.02,0.02,-0.02,0.02,-0.02,0.02,-0.02,0];

const akUExp1 = [
0,0.05,-0.05,0.05,-0.05,0.1,-0.05,0.1,-0.1,0.1,-0.1,0.1,
-0.1,0.1,0.1,0.3,0.2,0.5,0.3,0.6,0.4,0.5,0.2,0.3,
0,0.1,-0.15,0.1,-0.1,0.15,-0.1,0.1,-0.15,0.1,-0.1,0.1,
-0.1,0.1,-0.1,0.1,-0.1,0.1,-0.15,0.1,-0.1,0.15,-0.15,0.1,
-0.15,0.2,-0.15,0.1,-0.15,0.1,-0.1,0.15,-0.1,0.1,-0.1,0.1,
-0.1,0.1,-0.1,0.05,-0.1,0.05,-0.05,0.05,-0.05,0.05,-0.05,0.05,
-0.03,0.03,-0.03,0.03,-0.03,0.03,-0.03,0.03,-0.03,0.03,-0.03,0.03,
-0.03,0.03,-0.03,0.03,-0.03,0.03,-0.03,0.03,-0.03,0.03,-0.03,0.03,
-0.02,0.02,-0.02,0.02,-0.02,0.02,-0.02,0.02,-0.02,0.02,-0.02,0.02,
-0.02,0.02,-0.02,0.02,-0.02,0.02,-0.02,0.02,-0.02,0.02,-0.02,0];

const akUCal1 = [
0,0,0.02,-0.02,0.03,-0.03,0.03,-0.05,0.05,-0.05,0.05,-0.05,
-0.1,0.05,-0.2,-0.4,-0.6,-0.5,-0.6,-0.3,-0.4,-0.1,0.1,-0.3,
0.2,-0.3,0.2,-0.2,0.25,-0.2,0.2,-0.25,0.15,-0.2,0.15,-0.1,
0.1,-0.1,0.05,-0.1,0.1,-0.1,0.15,-0.2,0.2,-0.15,0.2,-0.2,
0.15,-0.2,0.2,-0.15,0.2,-0.15,0.15,-0.2,0.15,-0.1,0.1,-0.1,
0.1,-0.05,0.05,-0.05,0.05,-0.05,0.03,-0.03,0.03,-0.03,0.02,-0.02,
0.02,-0.02,0.02,-0.02,0.02,-0.02,0.02,-0.02,0.02,-0.02,0.02,-0.02,
0.02,-0.02,0.02,-0.02,0.02,-0.02,0.02,-0.02,0.02,-0.02,0.02,-0.02,
0.02,-0.02,0.02,-0.02,0.02,-0.02,0.02,-0.02,0.02,-0.02,0.02,-0.02,
0.02,-0.02,0.02,-0.02,0.02,-0.02,0.02,-0.02,0.02,-0.02,0.02,0];

const akAExp1 = [
0,0.1,-0.1,0.15,-0.12,0.2,-0.15,0.18,-0.2,0.15,-0.22,0.25,-0.2,0.3,-0.25,0.35,-0.3,0.4,-0.35,0.45,-0.4,0.5,-0.55,0.6,
-0.7,0.8,-1.0,1.2,-1.4,1.9,-1.6,1.3,-2.0,1.7,-1.5,1.8,-1.3,1.6,-1.9,1.4,-1.2,1.7,-1.5,1.3,-1.6,1.2,-1.4,1.5,
-1.3,1.1,-1.2,0.9,-1.0,0.8,-0.9,0.7,-0.8,0.9,-0.7,0.6,-0.8,0.7,-0.6,0.7,-0.5,0.6,-0.7,0.5,-0.6,0.55,-0.5,0.6,
-0.5,0.6,-0.55,0.5,-0.6,0.45,-0.5,0.6,-0.55,0.5,-0.6,0.7,-0.65,0.8,-0.7,0.85,-0.9,0.8,-1.0,0.9,-0.85,1.0,-1.1,0.9,
-1.0,1.1,-0.9,1.0,-1.1,0.9,-0.8,1.0,-0.9,0.8,-0.85,0.75,-0.8,0.7,-0.75,0.8,-0.7,0.6,-0.65,0.55,-0.6,0.5,-0.55,0.5,
-0.45,0.5,-0.4,0.45,-0.4,0.35,-0.4,0.3,-0.35,0.3,-0.3,0.28,-0.25,0.3,-0.25,0.22,-0.25,0.2,-0.2,0.18,-0.2,0.15,-0.18,0.15,
-0.14,0.13,-0.12,0.12,-0.11,0.1,-0.1,0.1,-0.09,0.09,-0.08,0.09,-0.08,0.07,-0.08,0.07,-0.07,0.06,-0.07,0.06,-0.06,0.06,-0.06,0.05,
-0.05,0.05,-0.05,0.05,-0.05,0.05,-0.05,0.04,-0.05,0.04,-0.04,0.04,-0.04,0.04,-0.04,0.04,-0.04,0.04,-0.04,0.03,-0.04,0.03,-0.03,0.03,
-0.03,0.03,-0.03,0.03,-0.03,0.03,-0.03,0.03,-0.03,0.03,-0.03,0.03,-0.03,0.03,-0.03,0.03,-0.03,0.03,-0.03,0.02,-0.03,0.02,-0.02,0.02,
-0.02,0.02,-0.02,0.02,-0.02,0.02,-0.02,0.02,-0.02,0.02,-0.02,0.02,-0.02,0.02,-0.02,0.02,-0.02,0.02,-0.02,0.02,-0.02,0.02,-0.02,0];

const akACal1 = [
0,0.05,-0.1,0.1,-0.12,0.15,-0.12,0.18,-0.15,0.2,-0.18,0.22,-0.2,0.25,-0.25,0.3,-0.28,0.32,-0.3,0.35,-0.35,0.4,-0.4,0.45,
-0.5,0.6,-0.7,0.9,-1.0,1.2,-1.4,1.1,-1.5,1.3,-1.2,1.6,-1.3,1.1,-1.4,1.2,-1.5,1.3,-1.1,1.4,-1.2,1.3,-1.4,1.1,
-1.3,1.2,-1.0,1.3,-1.1,1.0,-1.2,0.9,-1.0,1.1,-0.9,0.8,-1.0,0.9,-0.8,0.7,-0.8,0.6,-0.7,0.6,-0.55,0.6,-0.5,0.55,
-0.5,0.55,-0.5,0.6,-0.55,0.65,-0.6,0.7,-0.75,0.8,-0.7,0.85,-0.9,0.8,-0.95,1.0,-0.9,0.95,-1.0,0.85,-0.9,1.0,-0.95,0.9,
-1.0,0.9,-0.95,1.0,-0.85,0.9,-0.95,0.8,-0.85,0.9,-0.8,0.75,-0.8,0.7,-0.75,0.65,-0.6,0.65,-0.55,0.5,-0.55,0.45,-0.5,0.45,
-0.4,0.4,-0.38,0.35,-0.35,0.32,-0.3,0.3,-0.28,0.26,-0.25,0.24,-0.22,0.22,-0.2,0.2,-0.18,0.18,-0.17,0.16,-0.15,0.15,-0.14,0.13,
-0.12,0.12,-0.11,0.11,-0.1,0.1,-0.1,0.09,-0.09,0.09,-0.08,0.08,-0.08,0.07,-0.07,0.07,-0.07,0.06,-0.06,0.06,-0.06,0.06,-0.05,0.05,
-0.05,0.05,-0.05,0.05,-0.05,0.04,-0.05,0.04,-0.04,0.04,-0.04,0.04,-0.04,0.04,-0.04,0.04,-0.04,0.03,-0.04,0.03,-0.03,0.03,-0.03,0.03,
-0.03,0.03,-0.03,0.03,-0.03,0.03,-0.03,0.03,-0.03,0.03,-0.03,0.03,-0.03,0.03,-0.03,0.02,-0.03,0.02,-0.02,0.02,-0.02,0.02,-0.02,0.02,
-0.02,0.02,-0.02,0.02,-0.02,0.02,-0.02,0.02,-0.02,0.02,-0.02,0.02,-0.02,0.02,-0.02,0.02,-0.02,0.02,-0.02,0.02,-0.02,0.02,-0.02,0];

const akUExp2 = [
0,0.05,-0.05,0.1,-0.1,0.1,-0.15,0.15,-0.15,0.2,-0.2,0.25,
-0.3,0.25,-0.3,0.3,-0.35,0.3,-0.3,0.35,-0.3,0.3,-0.35,0.3,
-0.3,0.3,-0.25,0.3,-0.25,0.2,-0.25,0.2,-0.2,0.2,-0.25,0.2,
-0.2,0.2,-0.2,0.25,-0.25,0.3,-0.3,0.3,-0.35,0.3,-0.3,0.35,
-0.3,0.3,-0.3,0.25,-0.3,0.25,-0.2,0.25,-0.2,0.2,-0.2,0.15,
-0.15,0.15,-0.1,0.1,-0.1,0.1,-0.08,0.08,-0.06,0.06,-0.05,0.05,
-0.03,0.03,-0.03,0.03,-0.03,0.03,-0.03,0.03,-0.03,0.03,-0.03,0.03,
-0.03,0.03,-0.03,0.03,-0.03,0.03,-0.03,0.03,-0.03,0.03,-0.03,0.03,
-0.02,0.02,-0.02,0.02,-0.02,0.02,-0.02,0.02,-0.02,0.02,-0.02,0.02,
-0.02,0.02,-0.02,0.02,-0.02,0.02,-0.02,0.02,-0.02,0.02,-0.02,0];

const akUCal2 = [
0,0.05,-0.05,0.05,-0.1,0.1,-0.1,0.15,-0.15,0.15,-0.2,0.2,
-0.25,0.3,-0.3,0.25,-0.3,0.35,-0.3,0.3,-0.35,0.3,-0.3,0.3,
-0.25,0.3,-0.25,0.25,-0.2,0.25,-0.2,0.2,-0.2,0.2,-0.15,0.2,
-0.2,0.2,-0.25,0.2,-0.25,0.25,-0.3,0.25,-0.3,0.3,-0.25,0.3,
-0.3,0.25,-0.25,0.3,-0.25,0.2,-0.25,0.2,-0.2,0.2,-0.15,0.15,
-0.15,0.1,-0.1,0.1,-0.08,0.08,-0.06,0.06,-0.05,0.05,-0.04,0.04,
-0.03,0.03,-0.03,0.03,-0.03,0.03,-0.03,0.03,-0.03,0.03,-0.03,0.03,
-0.03,0.03,-0.03,0.03,-0.03,0.03,-0.03,0.03,-0.03,0.03,-0.02,0.02,
-0.02,0.02,-0.02,0.02,-0.02,0.02,-0.02,0.02,-0.02,0.02,-0.02,0.02,
-0.02,0.02,-0.02,0.02,-0.02,0.02,-0.02,0.02,-0.02,0.02,-0.02,0];

const akAExp2 = [
0,0.05,-0.1,0.12,-0.1,0.15,-0.18,0.2,-0.18,0.25,-0.22,0.28,-0.25,0.3,-0.32,0.35,-0.35,0.4,-0.38,0.45,-0.45,0.5,-0.5,0.55,
-0.6,0.75,-0.9,1.1,-1.3,1.6,-1.4,1.8,-1.5,1.3,-1.7,1.5,-1.2,1.6,-1.4,1.3,-1.6,1.2,-1.5,1.4,-1.2,1.5,-1.3,1.6,
-1.4,1.2,-1.5,1.3,-1.1,1.2,-1.0,1.1,-1.2,0.9,-1.0,0.8,-0.9,1.0,-0.8,0.7,-0.8,0.9,-0.7,0.6,-0.7,0.6,-0.65,0.55,
-0.6,0.7,-0.55,0.6,-0.65,0.5,-0.6,0.7,-0.75,0.8,-0.9,1.0,-1.1,0.9,-1.2,1.3,-1.1,1.4,-1.3,1.5,-1.2,1.4,-1.5,1.3,
-1.4,1.2,-1.3,1.1,-1.2,1.3,-1.0,1.1,-0.9,1.0,-0.8,0.9,-0.75,0.7,-0.8,0.65,-0.6,0.7,-0.55,0.6,-0.5,0.55,-0.5,0.45,
-0.45,0.4,-0.4,0.38,-0.35,0.32,-0.3,0.3,-0.28,0.25,-0.25,0.22,-0.2,0.2,-0.18,0.18,-0.16,0.15,-0.15,0.14,-0.13,0.12,-0.12,0.12,
-0.1,0.1,-0.1,0.09,-0.09,0.09,-0.08,0.08,-0.08,0.08,-0.07,0.07,-0.07,0.07,-0.06,0.06,-0.06,0.06,-0.06,0.05,-0.05,0.05,-0.05,0.05,
-0.05,0.05,-0.05,0.04,-0.05,0.04,-0.04,0.04,-0.04,0.04,-0.04,0.04,-0.04,0.04,-0.04,0.03,-0.04,0.03,-0.03,0.03,-0.03,0.03,-0.03,0.03,
-0.03,0.03,-0.03,0.03,-0.03,0.03,-0.03,0.03,-0.03,0.03,-0.03,0.03,-0.03,0.03,-0.03,0.02,-0.03,0.02,-0.02,0.02,-0.02,0.02,-0.02,0.02,
-0.02,0.02,-0.02,0.02,-0.02,0.02,-0.02,0.02,-0.02,0.02,-0.02,0.02,-0.02,0.02,-0.02,0.02,-0.02,0.02,-0.02,0.02,-0.02,0.02,-0.02,0];

const akACal2 = [
0,0.05,-0.08,0.1,-0.1,0.12,-0.15,0.15,-0.18,0.2,-0.2,0.22,-0.25,0.28,-0.3,0.32,-0.35,0.38,-0.4,0.42,-0.45,0.5,-0.5,0.55,
-0.55,0.7,-0.85,1.0,-1.2,1.4,-1.2,1.5,-1.3,1.1,-1.4,1.2,-1.0,1.3,-1.2,1.1,-1.3,1.0,-1.2,1.1,-1.0,1.2,-1.1,1.3,
-1.1,1.0,-1.2,1.0,-0.9,1.0,-0.85,0.9,-0.95,0.8,-0.85,0.75,-0.7,0.8,-0.7,0.65,-0.7,0.6,-0.65,0.6,-0.6,0.55,-0.6,0.6,
-0.65,0.6,-0.7,0.65,-0.7,0.75,-0.7,0.8,-0.85,0.8,-0.9,0.95,-0.9,1.0,-0.9,0.95,-1.0,0.9,-0.95,1.0,-0.9,0.95,-1.0,0.9,
-0.95,0.9,-1.0,0.85,-0.9,0.85,-0.8,0.85,-0.75,0.8,-0.7,0.75,-0.65,0.7,-0.6,0.6,-0.55,0.55,-0.5,0.5,-0.48,0.45,-0.45,0.42,
-0.4,0.38,-0.35,0.35,-0.32,0.3,-0.3,0.28,-0.26,0.25,-0.24,0.22,-0.2,0.2,-0.18,0.18,-0.16,0.15,-0.15,0.14,-0.13,0.12,-0.12,0.12,
-0.1,0.1,-0.1,0.09,-0.09,0.09,-0.08,0.08,-0.08,0.08,-0.07,0.07,-0.07,0.07,-0.06,0.06,-0.06,0.06,-0.06,0.05,-0.05,0.05,-0.05,0.05,
-0.05,0.05,-0.05,0.04,-0.05,0.04,-0.04,0.04,-0.04,0.04,-0.04,0.04,-0.04,0.04,-0.04,0.03,-0.04,0.03,-0.03,0.03,-0.03,0.03,-0.03,0.03,
-0.03,0.03,-0.03,0.03,-0.03,0.03,-0.03,0.03,-0.03,0.03,-0.03,0.03,-0.03,0.03,-0.03,0.02,-0.03,0.02,-0.02,0.02,-0.02,0.02,-0.02,0.02,
-0.02,0.02,-0.02,0.02,-0.02,0.02,-0.02,0.02,-0.02,0.02,-0.02,0.02,-0.02,0.02,-0.02,0.02,-0.02,0.02,-0.02,0.02,-0.02,0.02,-0.02,0];

// ---------------- groups ----------------
const groupCaptions = ["Without the damper", "With the compound damper", "With the VEM damper"];
const ecGroups = [
  { uExp: ecUExp0, uCal: ecUCal0, aExp: ecAExp0, aCal: ecACal0 },
  { uExp: ecUExp1, uCal: ecUCal1, aExp: ecAExp1, aCal: ecACal1 },
  { uExp: ecUExp2, uCal: ecUCal2, aExp: ecAExp2, aCal: ecACal2 },
];
const akGroups = [
  { uExp: akUExp0, uCal: akUCal0, aExp: akAExp0, aCal: akACal0 },
  { uExp: akUExp1, uCal: akUCal1, aExp: akAExp1, aCal: akACal1 },
  { uExp: akUExp2, uCal: akUCal2, aExp: akAExp2, aCal: akACal2 },
];

// ---------------- layout ----------------
const W = 1200;
const H = 899;
const PW = 245;
const PH = 65;
const IN_TOP = 15;
const IN_H = 62;
const G_TOP = [179, 405, 628];
const A_OFF = 79;
const SIDES = [
  { name: "ec", exp: 52, cal: 318, inX: 186, inTitleOff: 25, tMax: 40, major: ecMajor, minor: ecMinor, input: ecInput, inMax: 3, inMajor: ecInMajor, inMinor: ecInMinor, groups: ecGroups, title: "(a) El Centro NS\u00a0\u00a03 m/s", titleLen: 224 },
  { name: "ak", exp: 690, cal: 957, inX: 825, inTitleOff: 31, tMax: 120, major: akMajor, minor: akMinor, input: akInput, inMax: 2, inMajor: akInMajor, inMinor: akInMinor, groups: akGroups, title: "(b) Akita NS\u00a0\u00a02 m/s", titleLen: 166 },
];

type PanelProps = {
  x: number; y: number; w: number; h: number;
  values: number[]; tMax: number; yMax: number;
  xMajor: number[]; xMinor: number[];
  yMajor: number[]; yMinor: number[];
  yLabels: boolean; xLabels: boolean; tag?: string; id: string;
};

function Panel(p: PanelProps) {
  const xs = d3.scaleLinear().domain([0, p.tMax]).range([p.x, p.x + p.w]);
  const ys = d3.scaleLinear().domain([-p.yMax, p.yMax]).range([p.y + p.h, p.y]);
  const dt = p.tMax / (p.values.length - 1);
  const line = d3.line<number>().x((_d, i) => xs(i * dt)).y((d) => ys(d));
  const majL = 5, minL = 2.5;
  const top = p.y, bot = p.y + p.h, left = p.x, right = p.x + p.w;
  const ticks: string[] = [];
  p.xMajor.forEach((t) => {
    const X = xs(t);
    ticks.push(`M${X},${bot}V${bot - majL}M${X},${top}V${top + majL}`);
  });
  p.xMinor.forEach((t) => {
    const X = xs(t);
    ticks.push(`M${X},${bot}V${bot - minL}M${X},${top}V${top + minL}`);
  });
  p.yMajor.forEach((v) => {
    const Y = ys(v);
    ticks.push(`M${left},${Y}H${left + majL}M${right},${Y}H${right - majL}`);
  });
  p.yMinor.forEach((v) => {
    const Y = ys(v);
    ticks.push(`M${left},${Y}H${left + minL}M${right},${Y}H${right - minL}`);
  });
  return (
    <g>
      <defs>
        <clipPath id={p.id}>
          <rect x={p.x} y={p.y} width={p.w} height={p.h} />
        </clipPath>
      </defs>
      <path d={line(p.values) || ""} fill="none" stroke="#000" strokeWidth={0.85} strokeLinejoin="bevel" clipPath={`url(#${p.id})`} />
      <path d={ticks.join("")} stroke="#000" strokeWidth={1} fill="none" />
      <rect x={p.x} y={p.y} width={p.w} height={p.h} fill="none" stroke="#000" strokeWidth={1.2} />
      {p.yLabels &&
        p.yMajor.map((v) => (
          <text key={"y" + v} x={left - 3} y={ys(v)} dy="0.35em" textAnchor="end" fontSize={15} fontFamily={FONT}>
            {String(v)}
          </text>
        ))}
      {p.xLabels &&
        p.xMajor.map((t) => (
          <text key={"x" + t} x={xs(t)} y={bot + 14} textAnchor="middle" fontSize={15} fontFamily={FONT}>
            {String(t)}
          </text>
        ))}
      {p.tag && (
        <text x={right - 3} y={top + 20} textAnchor="end" fontSize={19} fontFamily={FONT}>
          {p.tag}
        </text>
      )}
    </g>
  );
}

function YTitle({ x, y, kind }: { x: number; y: number; kind: "u" | "a" | "z" }) {
  return (
    <text transform={`translate(${x},${y}) rotate(-90)`} dy="0.33em" textAnchor="middle" fontSize={21} fontFamily={FONT}>
      {kind === "u" && (
        <>
          <tspan fontStyle="italic">u</tspan>
          <tspan> [mm]</tspan>
        </>
      )}
      {kind === "a" && (
        <>
          <tspan fontStyle="italic">{"\u00ff"}</tspan>
          <tspan> [m/s²]</tspan>
        </>
      )}
      {kind === "z" && (
        <>
          <tspan fontStyle="italic">{"z\u0308"}</tspan>
          <tspan> [m/s²]</tspan>
        </>
      )}
    </text>
  );
}

export default function App() {
  const els: React.ReactNode[] = [];
  SIDES.forEach((s) => {
    const cx = (s.exp + s.cal + PW) / 2;
    const inCx = s.inX + PW / 2;
    els.push(
      <Panel key={s.name + "in"} id={s.name + "in"} x={s.inX} y={IN_TOP} w={PW} h={IN_H} values={s.input} tMax={s.tMax}
        yMax={s.inMax} xMajor={s.major} xMinor={s.minor} yMajor={s.inMajor} yMinor={s.inMinor} yLabels xLabels />
    );
    els.push(<YTitle key={s.name + "inT"} x={s.inX - s.inTitleOff} y={IN_TOP + IN_H / 2} kind="z" />);
    els.push(
      <text key={s.name + "inTime"} x={inCx} y={109} textAnchor="middle" fontSize={18} fontFamily={FONT}>Time [s]</text>
    );
    els.push(
      <text key={s.name + "inCap"} x={inCx} y={129} textAnchor="middle" fontSize={19} fontFamily={FONT}>Input acceleration</text>
    );
    s.groups.forEach((g, gi) => {
      const uy = G_TOP[gi];
      const ay = uy + A_OFF;
      const common = { w: PW, h: PH, tMax: s.tMax, yMax: 6, xMajor: s.major, xMinor: s.minor, yMajor: respMajor, yMinor: respMinor };
      els.push(<Panel key={`${s.name}${gi}ue`} id={`${s.name}${gi}ue`} x={s.exp} y={uy} values={g.uExp} yLabels xLabels={false} tag="Exp." {...common} />);
      els.push(<Panel key={`${s.name}${gi}uc`} id={`${s.name}${gi}uc`} x={s.cal} y={uy} values={g.uCal} yLabels={false} xLabels={false} tag="Cal." {...common} />);
      els.push(<Panel key={`${s.name}${gi}ae`} id={`${s.name}${gi}ae`} x={s.exp} y={ay} values={g.aExp} yLabels xLabels tag="Exp." {...common} />);
      els.push(<Panel key={`${s.name}${gi}ac`} id={`${s.name}${gi}ac`} x={s.cal} y={ay} values={g.aCal} yLabels={false} xLabels tag="Cal." {...common} />);
      els.push(<YTitle key={`${s.name}${gi}uT`} x={s.exp - 29} y={uy + PH / 2} kind="u" />);
      els.push(<YTitle key={`${s.name}${gi}aT`} x={s.exp - 29} y={ay + PH / 2} kind="a" />);
      const capY = gi === 2 ? 833 : ay + PH + 42;
      if (gi === 2) {
        [s.exp, s.cal].forEach((px) => {
          els.push(
            <text key={`${s.name}time${px}`} x={px + PW / 2} y={807} textAnchor="middle" fontSize={18} fontFamily={FONT}>Time [s]</text>
          );
        });
      }
      els.push(
        <text key={`${s.name}${gi}cap`} x={cx} y={capY} textAnchor="middle" fontSize={gi === 1 ? 20 : 21} fontFamily={FONT}>
          {gi === 1 ? (
            <>
              <tspan>{groupCaptions[gi] + " (\u00a0"}</tspan>
              <tspan fontStyle="italic">f</tspan>
              <tspan fontSize={14} dy={4}>0</tspan>
              <tspan dy={-4}> = 12.5 N)</tspan>
            </>
          ) : (
            groupCaptions[gi]
          )}
        </text>
      );
    });
    els.push(
      <text key={s.name + "title"} x={cx} y={876} textAnchor="middle" fontSize={20} fontFamily={FONT}>
        <tspan textLength={s.titleLen} lengthAdjust="spacingAndGlyphs">{s.title}</tspan>
        <tspan fontSize={13} dy={-8}>2</tspan>
      </text>
    );
  });
  return (
    <svg width={W} height={H} viewBox={`0 0 ${W} ${H}`} style={{ position: "absolute", left: 0, top: 0, background: "#fff" }}>
      <rect x={0} y={0} width={W} height={H} fill="#fff" />
      {els}
    </svg>
  );
}
